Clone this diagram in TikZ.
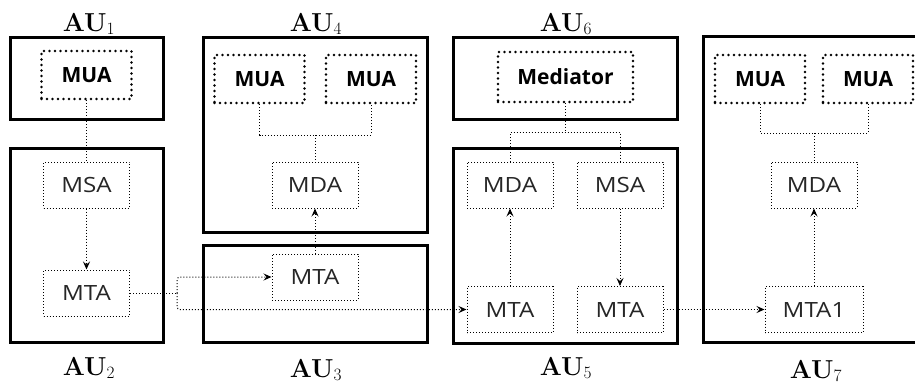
\documentclass[tikz,border=0pt]{standalone}
\usepackage{fontspec}
\newfontfamily\agentfont[FakeStretch=1.15]{Open Sans}
\newfontfamily\userfont{Open Sans}
\usetikzlibrary{arrows.meta}

\tikzset{
  unit/.style={draw, line width=3pt, minimum width=224pt, inner sep=0pt},
  agent/.style={draw, dotted, line width=1pt, minimum width=86pt, minimum height=46pt,
    text=black!85, font=\agentfont\fontsize{21}{22}\selectfont},
  user/.style={draw, line width=2.6pt, dash pattern=on 0pt off 5.5pt, line cap=round,
    minimum width=90pt, minimum height=48pt, font=\userfont\bfseries\fontsize{21}{22}\selectfont},
  link/.style={dotted, line width=1pt},
  flow/.style={link, -{Stealth[length=8pt,width=7pt,inset=3pt]}},
  aulabel/.style={font=\fontsize{26}{28}\selectfont},
}

\begin{document}
\begin{tikzpicture}[x=1pt,y=-1pt]
  \useasboundingbox (0,0) rectangle (915,388);
  \clip (0,0) rectangle (915,388);

  % administrative units
  \node[unit, minimum width=153pt, minimum height=82pt] (au1) at (86.5,78) {};
  \node[unit, minimum width=153pt, minimum height=194pt] (au2) at (86.5,245) {};
  \node[unit, minimum height=195pt] (au4) at (315,134.5) {};
  \node[unit, minimum height=97pt] (au3) at (315,293.5) {};
  \node[unit, minimum height=82pt] (au6) at (565,78) {};
  \node[unit, minimum height=195pt] (au5) at (565,245.5) {};
  \node[unit, minimum height=306pt] (au7) at (815,189) {};

  \node[aulabel] (lab1) at (89,24) {$\textbf{AU}_1$};
  \node[aulabel] (lab4) at (316,24) {$\textbf{AU}_4$};
  \node[aulabel] (lab6) at (566,24) {$\textbf{AU}_6$};
  \node[aulabel] (lab2) at (89,368) {$\textbf{AU}_2$};
  \node[aulabel] (lab3) at (316,370) {$\textbf{AU}_3$};
  \node[aulabel] (lab5) at (566,368) {$\textbf{AU}_5$};
  \node[aulabel] (lab7) at (816,371) {$\textbf{AU}_7$};

  % agents
  \node[user] (mua1) at (86.5,75) {MUA};
  \node[agent] (msa2) at (86.5,185) {MSA};
  \node[agent] (mta2) at (86.5,293) {MTA};

  \node[user] (mua4a) at (259.5,79) {MUA};
  \node[user] (mua4b) at (371,79) {MUA};
  \node[agent] (mda4) at (315,185) {MDA};
  \node[agent] (mta3) at (315,277) {MTA};

  \node[user, minimum width=135pt, minimum height=50pt] (mediator) at (565.5,77) {Mediator};
  \node[agent] (mda5) at (510,185) {MDA};
  \node[agent] (msa5) at (620,185) {MSA};
  \node[agent] (mta5a) at (510,309.5) {MTA};
  \node[agent] (mta5b) at (620,309.5) {MTA};

  \node[user] (mua7a) at (760,79) {MUA};
  \node[user] (mua7b) at (868,79) {MUA};
  \node[agent] (mda7) at (814,185) {MDA};
  \node[agent, minimum width=98pt] (mta1) at (814,309.5) {MTA1};

  % connections
  \coordinate (split) at (177,293);
  \coordinate (bus4) at (315,135);
  \coordinate (bus6) at (565.5,132);
  \coordinate (bus7) at (814,133);

  \draw[link] (mua1) -- (msa2);
  \draw[flow] (msa2) -- (mta2);
  \draw[link] (mta2.east) -- (split);
  \draw[flow, rounded corners=3pt] (split) |- (mta3.west);
  \draw[flow, rounded corners=3pt] (split) |- (mta5a.west);

  \draw[link] (mua4a.south) |- (bus4) -| (mua4b.south);
  \draw[link] (bus4) -- (mda4.north);
  \draw[flow] (mta3) -- (mda4);

  \draw[link] (mediator.south) -- (bus6);
  \draw[link] (mda5.north) |- (bus6) -| (msa5.north);
  \draw[flow] (mta5a) -- (mda5);
  \draw[flow] (msa5) -- (mta5b);
  \draw[flow] (mta5b) -- (mta1);

  \draw[link] (mua7a.south) |- (bus7) -| (mua7b.south);
  \draw[link] (bus7) -- (mda7.north);
  \draw[flow] (mta1) -- (mda7);
\end{tikzpicture}
\end{document}
